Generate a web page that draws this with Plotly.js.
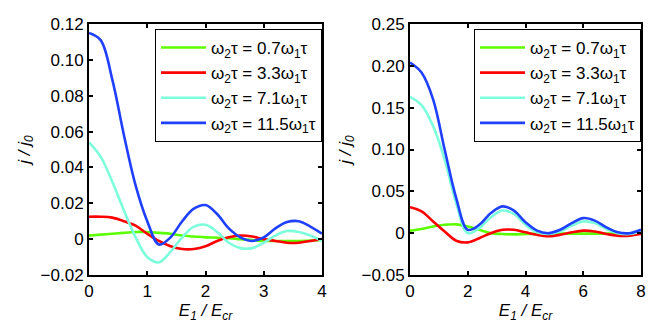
<!DOCTYPE html>
<html>
<head>
<meta charset="utf-8">
<script src="https://cdn.plot.ly/plotly-3.0.1.min.js"></script>
<style>
  html, body { margin: 0; padding: 0; background: #fff; }
  #plot { width: 651px; height: 325px; }
</style>
</head>
<body>
<div id="plot"></div>
<script>
// left panel: E1/Ecr from 0 to 4
let xLeft = [0, 0.2, 0.4, 0.6, 0.8, 1.0, 1.2, 1.4, 1.6, 1.8, 2.0, 2.2, 2.4, 2.6, 2.8, 3.0, 3.2, 3.4, 3.6, 3.8, 4.0];
let greenLeft = [0.002, 0.0025, 0.003, 0.0035, 0.004, 0.004, 0.0035, 0.003, 0.002, 0.0015, 0.001, 0.0008, 0.0005, 0.0, -0.0005, -0.001, -0.001, -0.001, -0.001, -0.0008, -0.0005];
let redLeft = [0.0125, 0.0125, 0.012, 0.010, 0.0075, 0.003, -0.001, -0.004, -0.0055, -0.0055, -0.004, -0.001, 0.001, 0.002, 0.0015, 0.0, -0.001, -0.002, -0.002, -0.001, 0.0];
let cyanLeft = [0.054, 0.046, 0.032, 0.016, 0.001, -0.010, -0.013, -0.007, 0.001, 0.007, 0.008, 0.004, -0.002, -0.005, -0.005, -0.002, 0.002, 0.0045, 0.004, 0.002, -0.001];
let blueLeft = [0.115, 0.111, 0.089, 0.058, 0.030, 0.010, -0.003, 0.001, 0.010, 0.017, 0.019, 0.014, 0.006, 0.001, -0.001, 0.001, 0.006, 0.0095, 0.010, 0.007, 0.003];

// right panel: E1/Ecr from 0 to 8
let xRight = [0, 0.4, 0.8, 1.2, 1.6, 2.0, 2.4, 2.8, 3.2, 3.6, 4.0, 4.4, 4.8, 5.2, 5.6, 6.0, 6.4, 6.8, 7.2, 7.6, 8.0];
let greenRight = [0.003, 0.005, 0.008, 0.010, 0.0105, 0.008, 0.004, 0.0, -0.001, -0.0015, -0.001, -0.0008, -0.0005, -0.0005, -0.0005, -0.0005, -0.0005, -0.0005, -0.0005, -0.0005, -0.0005];
let redRight = [0.031, 0.026, 0.014, 0.002, -0.009, -0.011, -0.006, 0.0, 0.004, 0.004, 0.001, -0.002, -0.0035, -0.002, 0.001, 0.003, 0.002, -0.001, -0.003, -0.003, -0.001];
let cyanRight = [0.163, 0.153, 0.128, 0.088, 0.036, 0.0, 0.006, 0.019, 0.027, 0.023, 0.010, 0.001, -0.001, 0.002, 0.009, 0.014, 0.012, 0.005, 0.0, -0.001, 0.002];
let blueRight = [0.204, 0.192, 0.160, 0.100, 0.042, 0.004, 0.010, 0.024, 0.032, 0.027, 0.013, 0.003, 0.0, 0.004, 0.012, 0.018, 0.015, 0.007, 0.001, 0.0, 0.004];

let names = ["ω<sub>2</sub>τ = 0.7ω<sub>1</sub>τ", "ω<sub>2</sub>τ = 3.3ω<sub>1</sub>τ", "ω<sub>2</sub>τ = 7.1ω<sub>1</sub>τ", "ω<sub>2</sub>τ = 11.5ω<sub>1</sub>τ"];
let colors = ["#5cff00", "#ff0000", "#7dffdc", "#2040ff"];

let leftTickVals = [-0.02, 0, 0.02, 0.04, 0.06, 0.08, 0.10, 0.12];
let leftTickText = ["−0.02", "0", "0.02", "0.04", "0.06", "0.08", "0.10", "0.12"];
let rightTickVals = [-0.05, 0, 0.05, 0.10, 0.15, 0.20, 0.25];
let rightTickText = ["−0.05", "0", "0.05", "0.10", "0.15", "0.20", "0.25"];

let leftSeries = [greenLeft, redLeft, cyanLeft, blueLeft];
let rightSeries = [greenRight, redRight, cyanRight, blueRight];

let traces = [];
leftSeries.forEach((ys, i) => {
  traces.push({
    x: xLeft, y: ys, mode: 'lines', name: names[i],
    line: { color: colors[i], width: 2.6, shape: 'spline', smoothing: 1 },
    xaxis: 'x', yaxis: 'y', legend: 'legend'
  });
});
rightSeries.forEach((ys, i) => {
  traces.push({
    x: xRight, y: ys, mode: 'lines', name: names[i],
    line: { color: colors[i], width: 2.6, shape: 'spline', smoothing: 1 },
    xaxis: 'x2', yaxis: 'y2', legend: 'legend2'
  });
});

let font = { family: 'Liberation Sans, Arial, sans-serif', size: 17, color: '#000' };
let axisBase = {
  showline: true, linecolor: '#000', linewidth: 2, mirror: 'ticks',
  ticks: 'inside', ticklen: 4, tickcolor: '#000', tickwidth: 1.5,
  showgrid: false, zeroline: false, tickfont: font
};

let legendBase = {
  bgcolor: '#fff', bordercolor: '#000', borderwidth: 1,
  font: { family: 'Liberation Sans, Arial, sans-serif', size: 17, color: '#000' },
  xanchor: 'right', yanchor: 'top', tracegroupgap: 0, itemwidth: 45
};

let layout = {
  width: 651, height: 325,
  margin: { l: 0, r: 0, t: 24, b: 50 },
  paper_bgcolor: '#fff', plot_bgcolor: '#fff',
  font: font,
  xaxis: Object.assign({}, axisBase, {
    domain: [89 / 651, 322 / 651], range: [0, 4],
    tickvals: [0, 1, 2, 3, 4],
    title: { text: '<i>E<sub>1</sub> / E<sub>cr</sub></i>', font: font, standoff: 2 }
  }),
  yaxis: Object.assign({}, axisBase, {
    range: [-0.02, 0.12], tickvals: leftTickVals, ticktext: leftTickText,
    title: { text: '<i>j / j<sub>0</sub></i>', font: font, standoff: 6 }
  }),
  xaxis2: Object.assign({}, axisBase, {
    domain: [410 / 651, 641 / 651], range: [0, 8], anchor: 'y2',
    tickvals: [0, 2, 4, 6, 8],
    title: { text: '<i>E<sub>1</sub> / E<sub>cr</sub></i>', font: font, standoff: 2 }
  }),
  yaxis2: Object.assign({}, axisBase, {
    range: [-0.05, 0.25], anchor: 'x2', tickvals: rightTickVals, ticktext: rightTickText,
    title: { text: '<i>j / j<sub>0</sub></i>', font: font, standoff: 6 }
  }),
  legend: Object.assign({}, legendBase, { x: 322 / 651, y: 0.98 }),
  legend2: Object.assign({}, legendBase, { x: 641 / 651, y: 0.98 })
};

Plotly.newPlot('plot', traces, layout, { displayModeBar: false });
</script>
</body>
</html>
